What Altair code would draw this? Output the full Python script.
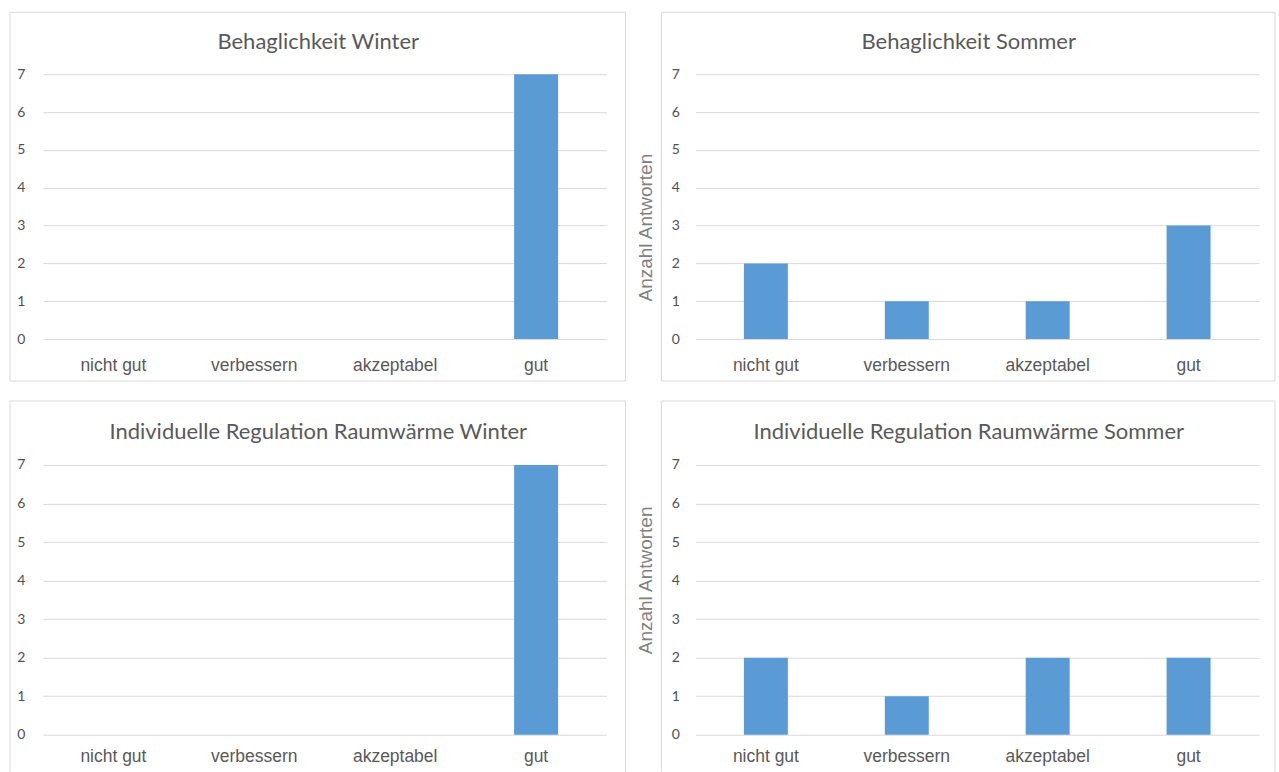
import altair as alt
import pandas as pd

categories = ["nicht gut", "verbessern", "akzeptabel", "gut"]
behaglichkeit_winter = [0, 0, 0, 7]
behaglichkeit_sommer = [2, 1, 1, 3]
regulation_winter = [0, 0, 0, 7]
regulation_sommer = [2, 1, 2, 2]
titles = [
    "Behaglichkeit Winter",
    "Behaglichkeit Sommer",
    "Individuelle Regulation Raumwärme Winter",
    "Individuelle Regulation Raumwärme Sommer",
]
y_ticks = [0, 1, 2, 3, 4, 5, 6, 7]
y_title = "Anzahl Antworten"

BAR = "#5b9bd5"
GRID = "#d9d9d9"
TXT = "#595959"
PLOT_W = 564


def panel(values, title, height, frame, title_y, label_pad, tick_pad,
          ytitle_y=None, bottom_edge=True):
    df = pd.DataFrame({"Kategorie": categories, "Anzahl": values})
    tdf = pd.DataFrame({"t": [title]})

    yaxis = dict(
        values=y_ticks, grid=True, gridColor=GRID, gridWidth=1,
        domain=False, ticks=False, tickSize=0,
        labelFont="Lato", labelFontSize=14, labelColor="#505050", labelPadding=tick_pad,
    )
    if ytitle_y is not None:
        yaxis.update(
            titleFont="Liberation Sans", titleFontSize=19, titleFontWeight="normal",
            titleColor="#808080", titleX=-50, titleY=ytitle_y,
            titleAlign="center", titleBaseline="middle",
        )
        ytitle = y_title
    else:
        ytitle = None

    bars = alt.Chart(df).mark_bar(color=BAR).encode(
        x=alt.X(
            "Kategorie:N", sort=categories, title=None,
            scale=alt.Scale(paddingInner=0.688, paddingOuter=0.344),
            axis=alt.Axis(
                labelAngle=0, domain=False, ticks=False, tickSize=0, grid=False,
                labelFont="Liberation Sans", labelFontSize=17.5, labelColor=TXT,
                labelPadding=label_pad,
            ),
        ),
        y=alt.Y(
            "Anzahl:Q", title=ytitle,
            scale=alt.Scale(domain=[0, 7], nice=False),
            axis=alt.Axis(**yaxis),
        ),
    )

    fx1, fx2, fy1, fy2 = frame
    if bottom_edge:
        box = [alt.Chart(tdf).mark_rect(fillOpacity=0, stroke=GRID, strokeWidth=1).encode(
            x=alt.value(fx1), x2=alt.value(fx2), y=alt.value(fy1), y2=alt.value(fy2)
        )]
    else:
        edge = alt.Chart(tdf).mark_rule(color=GRID, strokeWidth=1)
        box = [
            edge.encode(x=alt.value(fx1), x2=alt.value(fx2), y=alt.value(fy1)),
            edge.encode(x=alt.value(fx1), y=alt.value(fy1), y2=alt.value(fy2)),
            edge.encode(x=alt.value(fx2), y=alt.value(fy1), y2=alt.value(fy2)),
        ]
    head = alt.Chart(tdf).mark_text(
        font="Lato", fontSize=22, color=TXT, align="center", baseline="middle"
    ).encode(x=alt.value((fx1 + fx2) / 2 + 0.5), y=alt.value(title_y), text="t:N")

    return alt.layer(*box, bars, head).properties(width=PLOT_W, height=height)


p1 = panel(behaglichkeit_winter, titles[0], 265, (-33, 583, -62, 307), -32, 17, 18)
p2 = panel(behaglichkeit_sommer, titles[1], 265, (-34, 580, -62, 307), -32, 17, 16, ytitle_y=153)
p3 = panel(regulation_winter, titles[2], 270, (-33, 583, -64, 307), -33, 13, 18,
           bottom_edge=False)
p4 = panel(regulation_sommer, titles[3], 270, (-34, 580, -64, 307), -33, 13, 16,
           ytitle_y=115, bottom_edge=False)

chart = alt.concat(
    p1, p2, p3, p4, columns=2,
    spacing={"row": 126, "column": 89}, bounds="flush",
).configure_view(stroke=None).properties(
    padding={"left": 9, "top": 11, "right": 3, "bottom": 0},
    background="white",
)

chart.save("out.html", embed_options={"renderer": "svg", "actions": False})
